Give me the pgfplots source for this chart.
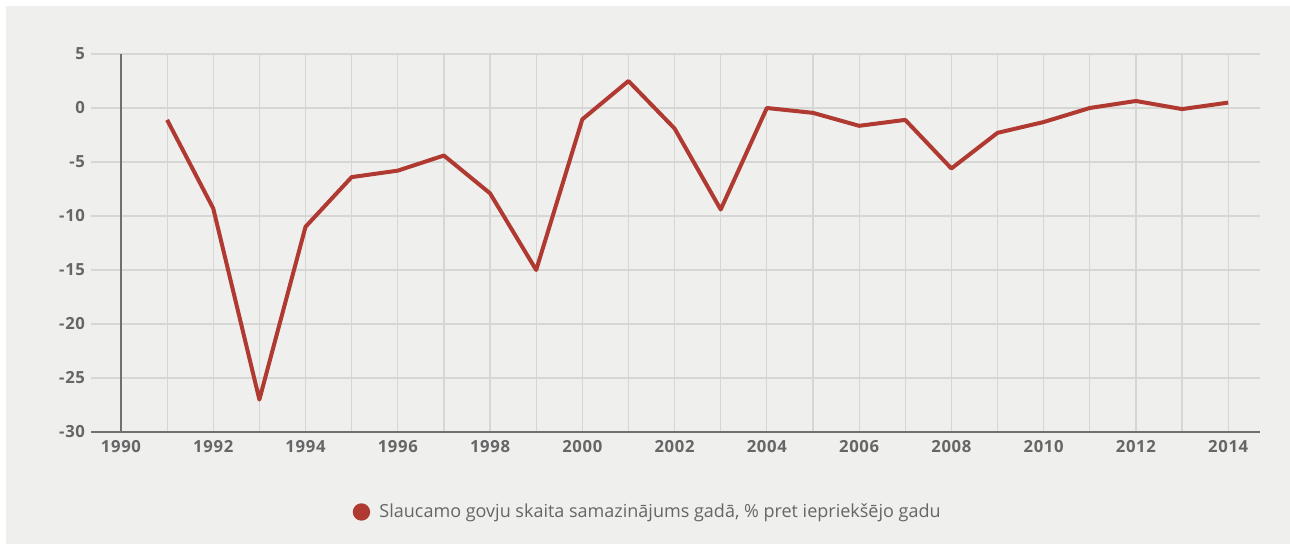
\documentclass[border=0pt]{standalone}
\usepackage{pgfplots}
\usepackage{pgfplotstable}
\pgfplotsset{compat=1.18}
\usepackage{fontspec}
\setmainfont{Open Sans}
\definecolor{bgc}{HTML}{EFEFED}
\definecolor{gridc}{HTML}{D6D6D4}
\definecolor{axisc}{HTML}{707070}
\definecolor{textc}{HTML}{666666}
\definecolor{linec}{HTML}{B03A32}
\pgfplotstableread{
year val
1991 -1.1
1992 -9.3
1993 -27.0
1994 -11.0
1995 -6.4
1996 -5.8
1997 -4.4
1998 -7.9
1999 -15.0
2000 -1.05
2001 2.5
2002 -1.9
2003 -9.4
2004 0.0
2005 -0.45
2006 -1.65
2007 -1.1
2008 -5.6
2009 -2.3
2010 -1.3
2011 0.0
2012 0.65
2013 -0.1
2014 0.5
}\datatable
\begin{document}
\begin{tikzpicture}
\fill[white] (0,0) rectangle (967.5pt,408pt);
\fill[bgc] (4.5pt,0) rectangle (967.5pt,403.5pt);
\begin{axis}[
  at={(68.25pt,84pt)}, anchor=south west,
  scale only axis, width=876.75pt, height=283.5pt,
  xmin=1989.35, xmax=2014.69, ymin=-30, ymax=5,
  axis line style={draw=none},
  xtick={1990,1992,...,2014}, minor xtick={1991,1993,...,2013},
  ytick={-30,-25,...,5},
  xticklabel style={/pgf/number format/1000 sep={}},
  /pgf/number format/assume math mode=true,
  ticklabel style={font=\addfontfeatures{LetterSpace=4}\fontsize{12.5}{14}\selectfont\bfseries, text=textc},
  xticklabel style={yshift=-3pt},
  yticklabel style={xshift=-1pt},
  major tick length=0pt, minor tick length=0pt,
  grid=both,
  major grid style={gridc, line width=0.9pt},
  minor grid style={gridc, line width=0.9pt},
  extra x ticks={1990}, extra x tick labels={},
  extra y ticks={-30}, extra y tick labels={},
  extra tick style={grid=major, major grid style={axisc, line width=0.8pt}},
  legend style={at={(0.4765,-0.2116)}, anchor=center, draw=none, fill=none,
    font=\fontsize{13.5}{15}\selectfont, text=textc},
  legend image code/.code={\fill[linec] (0,0) circle (0.5em); \path (1.0em,0);},
]
\addplot[linec, line width=3pt, line join=round] table[x=year,y=val]{\datatable};
\addlegendentry{Slaucamo govju skaita samazinājums gadā, \% pret iepriekšējo gadu}
\end{axis}
\pgfresetboundingbox
\useasboundingbox (0,0) rectangle (967.5pt,408pt);
\end{tikzpicture}
\end{document}
